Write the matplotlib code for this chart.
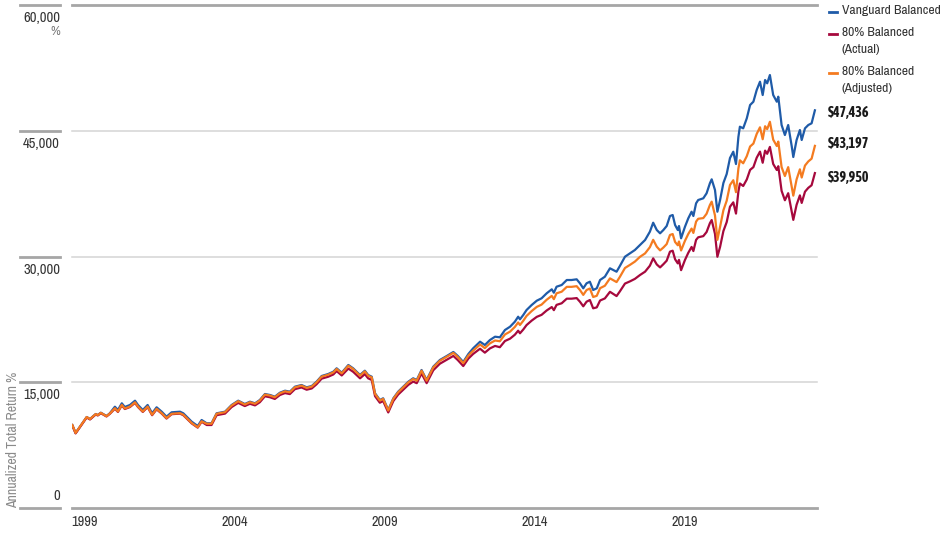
import matplotlib
matplotlib.use("Agg")
import matplotlib.pyplot as plt
from matplotlib import font_manager as fm
from matplotlib.lines import Line2D

# reference uses a condensed face; take one if the box has it
names = sorted({f.name for f in fm.fontManager.ttflist})
narrow = [n for n in names if "Condensed" in n or "Narrow" in n]
if narrow:
    base_font, k = narrow[0], 1.18
else:
    base_font, k = "Liberation Sans", 1.0
plt.rcParams['font.family'] = [base_font, 'DejaVu Sans']

# a narrow face that really has a bold cut, for the end values
heavy = {"bold", "700", "800", "900", "heavy", "black", "semibold", "demibold", "600"}
narrow_bold = sorted({f.name for f in fm.fontManager.ttflist
                      if f.name in narrow and str(f.weight).lower() in heavy})
if narrow_bold:
    bold_font, kb = narrow_bold[0], 1.18
else:
    bold_font, kb = "Liberation Sans", 1.0

# growth of 10,000 -- dates as decimal years
dates = [
    1998.58, 1998.69, 1999.06, 1999.17, 1999.36, 1999.43, 1999.53, 1999.72, 1999.83,
    2000.00, 2000.10, 2000.23, 2000.33, 2000.50, 2000.67, 2000.77, 2000.93, 2001.09,
    2001.24, 2001.39, 2001.56, 2001.72, 2001.89, 2002.17, 2002.28, 2002.56, 2002.76,
    2002.89, 2003.06, 2003.22, 2003.39, 2003.67, 2003.89, 2004.11, 2004.33, 2004.50,
    2004.67, 2004.83, 2005.00, 2005.17, 2005.33, 2005.50, 2005.67, 2005.83, 2006.00,
    2006.22, 2006.39, 2006.56, 2006.72, 2006.89, 2007.11, 2007.28, 2007.39, 2007.56,
    2007.78, 2007.94, 2008.17, 2008.33, 2008.44, 2008.56, 2008.67, 2008.83, 2008.94,
    2009.11, 2009.28, 2009.44, 2009.61, 2009.78, 2009.94, 2010.06, 2010.22, 2010.39,
    2010.50, 2010.61, 2010.83, 2011.06, 2011.28, 2011.43, 2011.61, 2011.78, 2011.94,
    2012.17, 2012.33, 2012.50, 2012.67, 2012.83, 2013.00, 2013.17, 2013.33, 2013.44,
    2013.50, 2013.61, 2013.72, 2013.89, 2014.06, 2014.22, 2014.39, 2014.56, 2014.63,
    2014.72, 2014.89, 2015.06, 2015.22, 2015.39, 2015.50, 2015.61, 2015.72, 2015.83,
    2015.94, 2016.06, 2016.17, 2016.33, 2016.50, 2016.72, 2016.83, 2017.00, 2017.17,
    2017.33, 2017.50, 2017.67, 2017.83, 2017.94, 2018.06, 2018.17, 2018.28, 2018.39,
    2018.50, 2018.59, 2018.67, 2018.76, 2018.80, 2018.87, 2019.00, 2019.11, 2019.22,
    2019.28, 2019.37, 2019.44, 2019.61, 2019.72, 2019.83, 2019.89, 2020.00, 2020.08,
    2020.17, 2020.28, 2020.39, 2020.50, 2020.61, 2020.70, 2020.78, 2020.83, 2020.94,
    2021.06, 2021.17, 2021.28, 2021.39, 2021.50, 2021.59, 2021.67, 2021.74, 2021.83,
    2021.94, 2022.06, 2022.11, 2022.22, 2022.33, 2022.44, 2022.56, 2022.61, 2022.72,
    2022.83, 2022.89, 2023.00, 2023.11, 2023.22, 2023.33,
]

vanguard = [
    9900, 8946, 10854, 10616, 11212, 11093, 11367, 10974, 11296,
    12083, 11689, 12489, 12047, 12286, 12799, 12286, 11689, 12286,
    11296, 12011, 11487, 10890, 11415, 11487, 11296, 10294, 9781,
    10497, 10103, 10103, 11296, 11487, 12286, 12799, 12405, 12680,
    12489, 12882, 13598, 13479, 13276, 13753, 13992, 13872, 14469,
    14671, 14397, 14552, 15065, 15745, 15984, 16258, 16663, 16138,
    17057, 16663, 15864, 16377, 15864, 15661, 13681, 12882, 13085,
    11689, 13085, 13872, 14469, 15065, 15471, 15268, 16461, 15268,
    16067, 16854, 17653, 18131, 18608, 18131, 17415, 18369, 19049,
    19836, 19443, 20039, 20433, 20361, 21232, 21626, 22222, 22818,
    22508, 23021, 23617, 24214, 24727, 25013, 25609, 26087, 25681,
    26397, 26599, 27196, 27196, 27279, 26802, 26206, 26802, 26993,
    26003, 26206, 27196, 27589, 28591, 28186, 28866, 29975, 30381,
    30774, 31371, 31967, 32957, 34031, 33160, 32766, 33160, 33637,
    34830, 34949, 33756, 33160, 33637, 32170, 33553, 34555, 35343,
    34830, 36344, 36738, 36941, 37537, 38730, 39207, 37931, 35343,
    36738, 38766, 39840, 41748, 42499, 41032, 44253, 45482, 45291,
    46484, 48070, 48464, 49859, 50849, 49263, 51052, 50658, 51648,
    49263, 48464, 49060, 45684, 44491, 45684, 43096, 41867, 43895,
    45088, 43895, 45291, 45684, 45887, 47436,
]

balanced_actual = [
    9850, 8900, 10800, 10560, 11150, 11040, 11310, 10920, 11230,
    11840, 11460, 12240, 11810, 12040, 12540, 12040, 11460, 12040,
    11070, 11770, 11260, 10670, 11190, 11260, 11070, 10090, 9590,
    10290, 9900, 9900, 11070, 11260, 12040, 12540, 12160, 12430,
    12240, 12620, 13330, 13210, 13010, 13480, 13710, 13590, 14180,
    14380, 14110, 14260, 14760, 15430, 15660, 15930, 16330, 15810,
    16630, 16250, 15470, 15970, 15470, 15270, 13340, 12560, 12760,
    11400, 12760, 13530, 14110, 14690, 15080, 14890, 16050, 14890,
    15670, 16430, 17210, 17680, 18140, 17640, 16930, 17820, 18380,
    19000, 18530, 19040, 19330, 19180, 19920, 20200, 20670, 21150,
    20840, 21290, 21820, 22350, 22800, 23040, 23560, 23970, 23600,
    24230, 24420, 24970, 24970, 25040, 24600, 24060, 24610, 24810,
    23820, 23930, 24750, 25000, 25790, 25280, 25840, 26770, 27040,
    27330, 27790, 28190, 28900, 29780, 29050, 28700, 29080, 29500,
    30580, 30690, 29670, 29180, 29600, 28370, 29590, 30440, 31140,
    30650, 31980, 32290, 32430, 32920, 33970, 34350, 32700, 29970,
    31150, 33030, 34100, 35940, 36460, 35120, 37750, 38710, 38410,
    39190, 40330, 40660, 41780, 42510, 41180, 42630, 42250, 43070,
    41040, 40320, 40770, 37830, 36710, 37550, 35340, 34370, 36170,
    37290, 36390, 37730, 38190, 38500, 39950,
]

balanced_adjusted = [
    9900, 8950, 10850, 10610, 11200, 11080, 11350, 10950, 11260,
    11900, 11510, 12300, 11870, 12100, 12610, 12100, 11510, 12100,
    11130, 11830, 11310, 10730, 11240, 11310, 11130, 10140, 9630,
    10340, 10050, 10050, 11240, 11430, 12220, 12740, 12340, 12620,
    12430, 12820, 13530, 13410, 13210, 13680, 13920, 13800, 14400,
    14600, 14330, 14480, 14990, 15670, 15900, 16180, 16580, 16060,
    16970, 16580, 15780, 16300, 15780, 15580, 13610, 12820, 13020,
    11630, 13020, 13800, 14400, 14990, 15390, 15190, 16380, 15190,
    15990, 16770, 17560, 18040, 18500, 18010, 17280, 18180, 18760,
    19500, 19070, 19640, 19980, 19890, 20700, 21040, 21600, 22130,
    21830, 22330, 22910, 23490, 23990, 24260, 24840, 25300, 24910,
    25610, 25800, 26380, 26380, 26460, 26000, 25420, 26000, 26180,
    25170, 25310, 26220, 26510, 27390, 26950, 27570, 28630, 29010,
    29390, 29960, 30370, 31110, 31990, 31170, 30730, 31070, 31480,
    32570, 32680, 31730, 31340, 31790, 30720, 31880, 32690, 33330,
    32810, 34160, 34500, 34580, 35100, 36140, 36540, 34900, 31990,
    33540, 35510, 36650, 38530, 39100, 37670, 40490, 41480, 41120,
    41970, 43120, 43470, 44620, 45410, 43990, 45540, 45190, 46070,
    43940, 43180, 43710, 40660, 39600, 40660, 38310, 37260, 39200,
    40400, 39420, 40850, 41340, 41670, 43197,
]

series_names = ["Vanguard Balanced", "80% Balanced\n(Actual)", "80% Balanced\n(Adjusted)"]
colors = ["#1f5ba8", "#a6093d", "#f47b20"]

y_ticks = [0, 15000, 30000, 45000, 60000]
x_ticks = [1999, 2004, 2009, 2014, 2019]

W, H = 948, 533
fig = plt.figure(figsize=(W / 100, H / 100), dpi=100)
ax = fig.add_axes([72 / W, 1 - 508 / H, (817 - 72) / W, (508 - 5) / H])

ax.plot(dates, vanguard, color=colors[0], lw=1.6, solid_joinstyle="round", zorder=3)
ax.plot(dates, balanced_actual, color=colors[1], lw=1.6, solid_joinstyle="round", zorder=3)
ax.plot(dates, balanced_adjusted, color=colors[2], lw=1.6, solid_joinstyle="round", zorder=4)

ax.set_xlim(1998.57, 2023.4)
ax.set_ylim(0, 60000)
for s in ax.spines.values():
    s.set_visible(False)

# grid lines, darker at top and bottom
for v in y_ticks:
    edge = v in (y_ticks[0], y_ticks[-1])
    ax.axhline(v, color="#a6a6a6" if edge else "#d4d4d4", lw=2 if edge else 1.1,
               zorder=1, clip_on=False)

ax.set_yticks([])
ax.set_xticks(x_ticks)
ax.set_xticklabels([str(t) for t in x_ticks], fontsize=8.8 * k, color="#333333")
ax.tick_params(axis="x", length=0, pad=5)

# y labels in the left margin with short rules
for v in y_ticks:
    yf = ax.transData.transform((0, v))[1] / H
    fig.add_artist(Line2D([20 / W, 60 / W], [yf, yf], color="#a6a6a6", lw=2))
    if v == 0:
        fig.text(60 / W, yf + 5 / H, f"{v:,}", ha="right", va="bottom", fontsize=8.9 * k, color="#333333")
    else:
        fig.text(60 / W, yf - 6 / H, f"{v:,}", ha="right", va="top", fontsize=8.9 * k, color="#333333")
fig.text(60 / W, 1 - 26 / H, "%", ha="right", va="top", fontsize=8.2 * k, color="#777777")
fig.text(13 / W, 1 - 508 / H, "Annualized Total Return %", rotation=90, ha="center",
         va="bottom", fontsize=8.4 * k, color="#8a8a8a")

# legend
leg_rows = [12, 34, 73]
for name, c, yy in zip(series_names, colors, leg_rows):
    fig.add_artist(Line2D([829 / W, 837 / W], [1 - yy / H, 1 - yy / H], color=c, lw=2))
    fig.text(842 / W, 1 - (yy - 7) / H, name, ha="left", va="top", fontsize=8.3 * k,
             color="#333333", linespacing=1.7)

# ending values
end_vals = [vanguard[-1], balanced_adjusted[-1], balanced_actual[-1]]
end_rows = [113, 144, 178]
for v, yy in zip(end_vals, end_rows):
    fig.text(828 / W, 1 - yy / H, f"${v:,}", ha="left", va="center", fontsize=8.6 * kb,
             family=[bold_font, "DejaVu Sans"], fontweight="bold", color="#1a1a1a")

fig.savefig("out.png", dpi=100)
